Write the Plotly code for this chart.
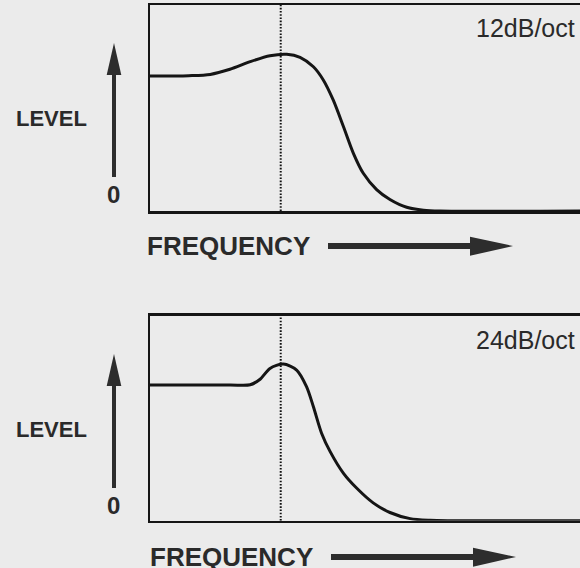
import plotly.graph_objects as go

W, H = 580, 568

# ---- data ----
freq_12 = [0, 9, 14, 18.6, 23.3, 27.9, 31.8, 34.9, 38.0, 40.3, 42.6, 45.0, 47.3, 49.6, 52.7, 55.8, 59.7, 63.6, 67.5, 100]
level_12 = [65.5, 65.7, 66.3, 68.8, 72.5, 75.4, 76.1, 74.6, 70.0, 63.6, 53.9, 40.9, 28.0, 18.3, 10.4, 5.6, 1.8, 0.4, 0, 0]

freq_24 = [0, 18.6, 23.3, 25.6, 27.9, 31.0, 34.1, 36.4, 38.0, 39.9, 41.9, 45.0, 48.1, 51.9, 55.8, 60.5, 65.1, 69.5, 100]
level_24 = [66.2, 66.2, 66.3, 69.0, 74.3, 76.4, 73.5, 65.4, 55.6, 42.7, 33.7, 23.1, 15.8, 8.7, 4.0, 1.0, 0.2, 0, 0]

cutoff = 30.4
slope_labels = ["12dB/oct", "24dB/oct"]
y_label = "LEVEL"
x_label = "FREQUENCY"
zero_label = "0"

# ---- styling ----
BG = "#ebebeb"
INK = "#151515"
ARROW = "#2d2d2d"
TXT = "#2a2a2a"
FONT = "Liberation Sans, Arial, Helvetica, sans-serif"


def px(x):
    return x / W


def py(y):
    return 1 - y / H


fig = go.Figure()

panels = [
    dict(freq=freq_12, level=level_12, xa="x", ya="y", ydom=[py(211), py(5)], off=0.0, xoff=0.0),
    dict(freq=freq_24, level=level_24, xa="x2", ya="y2", ydom=[py(520.7), py(315.7)], off=311.0, xoff=3.0),
]

shapes = []
annotations = []

for i, p in enumerate(panels):
    fig.add_trace(go.Scatter(
        x=[cutoff, cutoff], y=[0, 100], mode="lines", xaxis=p["xa"], yaxis=p["ya"],
        line=dict(color="#111111", width=2, dash="1.6px,1.6px"),
        hoverinfo="skip", showlegend=False,
    ))
    fig.add_trace(go.Scatter(
        x=p["freq"], y=p["level"], mode="lines", xaxis=p["xa"], yaxis=p["ya"],
        line=dict(color=INK, width=3, shape="spline", smoothing=0.8),
        hoverinfo="skip", showlegend=False,
    ))
    o = p["off"]
    xo = p["xoff"]
    # vertical arrow (level)
    shapes.append(dict(type="rect", xref="paper", yref="paper",
                       x0=px(112), x1=px(116), y0=py(177 + o), y1=py(74 + o),
                       fillcolor=ARROW, line=dict(width=0)))
    shapes.append(dict(type="path", xref="paper", yref="paper",
                       path=f"M {px(106.7)} {py(75 + o)} L {px(114)} {py(43 + o)} L {px(121.3)} {py(75 + o)} Z",
                       fillcolor=ARROW, line=dict(width=0)))
    # horizontal arrow (frequency)
    shapes.append(dict(type="rect", xref="paper", yref="paper",
                       x0=px(328 + xo), x1=px(471 + xo), y0=py(249 + o), y1=py(243 + o),
                       fillcolor=ARROW, line=dict(width=0)))
    shapes.append(dict(type="path", xref="paper", yref="paper",
                       path=f"M {px(470 + xo)} {py(236.7 + o)} L {px(513 + xo)} {py(246 + o)} L {px(470 + xo)} {py(255.7 + o)} Z",
                       fillcolor=ARROW, line=dict(width=0)))
    annotations += [
        dict(text=f"<b>{y_label}</b>", xref="paper", yref="paper", x=px(51.5), y=py(118 + o),
             xanchor="center", yanchor="middle", showarrow=False,
             font=dict(family=FONT, size=22, color=TXT)),
        dict(text=f"<b>{zero_label}</b>", xref="paper", yref="paper", x=px(113), y=py(194 + o),
             xanchor="center", yanchor="middle", showarrow=False,
             font=dict(family=FONT, size=24, color=TXT)),
        dict(text=f"<b>{x_label}</b>", xref="paper", yref="paper", x=px(145 + xo), y=py(246 + o),
             xanchor="left", yanchor="middle", showarrow=False,
             font=dict(family=FONT, size=26, color=TXT)),
        dict(text=slope_labels[i], xref="paper", yref="paper", x=px(577), y=py(28.5 + o),
             xanchor="right", yanchor="middle", showarrow=False,
             font=dict(family=FONT, size=25, color=TXT)),
    ]

axis_common = dict(showgrid=False, zeroline=False, showticklabels=False, ticks="",
                   showline=True, linecolor=INK, linewidth=2.5, fixedrange=True)

fig.update_layout(
    width=W, height=H, autosize=False,
    margin=dict(l=0, r=0, t=0, b=0, pad=0),
    paper_bgcolor=BG, plot_bgcolor=BG,
    showlegend=False,
    xaxis=dict(domain=[px(150), 1], range=[0, 100], anchor="y", mirror=True, **axis_common),
    yaxis=dict(domain=panels[0]["ydom"], range=[0, 100], anchor="x", mirror=False, **axis_common),
    xaxis2=dict(domain=[px(150), 1], range=[0, 100], anchor="y2", mirror=True, **axis_common),
    yaxis2=dict(domain=panels[1]["ydom"], range=[0, 100], anchor="x2", mirror=False, **axis_common),
    shapes=shapes,
    annotations=annotations,
)

fig.write_html(
    "out.html",
    config={"displayModeBar": False, "staticPlot": True},
    post_script="document.body.style.margin='0';document.body.style.overflow='hidden';document.body.style.background='#ebebeb';",
)
